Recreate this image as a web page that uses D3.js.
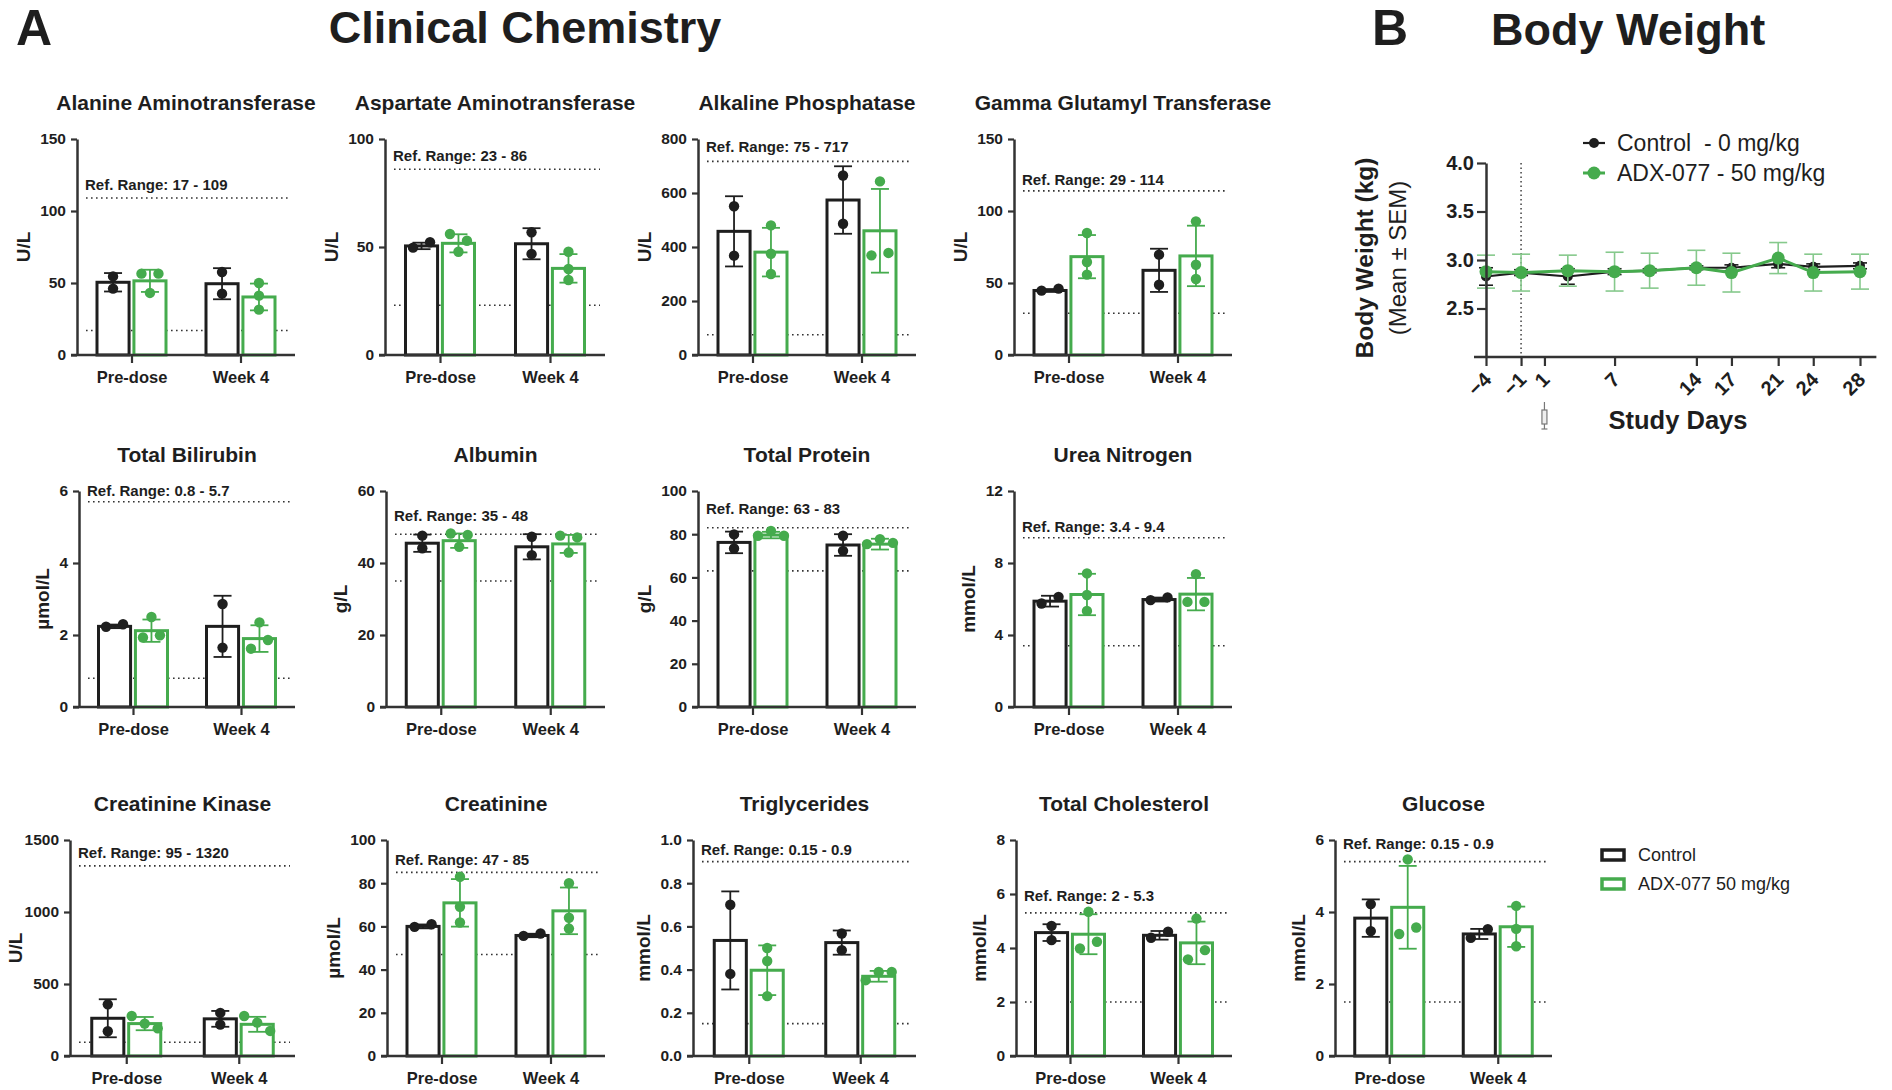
<!DOCTYPE html>
<html><head><meta charset="utf-8">
<script src="https://cdn.jsdelivr.net/npm/d3@7/dist/d3.min.js"></script>
<style>
body{margin:0;background:#fff}
svg{display:block}
text{font-family:"Liberation Sans",Arial,Helvetica,sans-serif;fill:#1e1e1e}
</style>
</head><body>
<svg id="chart" width="1892" height="1090"></svg>
<script>
// ---------------- DATA ----------------
const categories = ["Pre-dose", "Week 4"];
const groups = ["Control", "ADX-077 50 mg/kg"];
const panelTitles = ["Alanine Aminotransferase","Aspartate Aminotransferase","Alkaline Phosphatase","Gamma Glutamyl Transferase",
  "Total Bilirubin","Albumin","Total Protein","Urea Nitrogen",
  "Creatinine Kinase","Creatinine","Triglycerides","Total Cholesterol","Glucose"];
const units = ["U/L","U/L","U/L","U/L","µmol/L","g/L","g/L","mmol/L","U/L","µmol/L","mmol/L","mmol/L","mmol/L"];
const yMax = [150,100,800,150,6,60,100,12,1500,100,1.0,8,6];
const yTicks = [[0,50,100,150],[0,50,100],[0,200,400,600,800],[0,50,100,150],
  [0,2,4,6],[0,20,40,60],[0,20,40,60,80,100],[0,4,8,12],
  [0,500,1000,1500],[0,20,40,60,80,100],[0,0.2,0.4,0.6,0.8,1.0],[0,2,4,6,8],[0,2,4,6]];
const yTickFmt = ["d","d","d","d","d","d","d","d","d","d",".1f","d","d"];
const refLow  = [17,23,75,29,0.8,35,63,3.4,95,47,0.15,2,1.5];
const refHigh = [109,86,717,114,5.7,48,83,9.4,1320,85,0.9,5.3,5.4];
const refLabels = ["Ref. Range: 17 - 109","Ref. Range: 23 - 86","Ref. Range: 75 - 717","Ref. Range: 29 - 114",
  "Ref. Range: 0.8 - 5.7","Ref. Range: 35 - 48","Ref. Range: 63 - 83","Ref. Range: 3.4 - 9.4",
  "Ref. Range: 95 - 1320","Ref. Range: 47 - 85","Ref. Range: 0.15 - 0.9","Ref. Range: 2 - 5.3","Ref. Range: 0.15 - 0.9"];

// Control (n=2): [Pre-dose, Week 4]
const ctrlMean = [[50.5,49.5],[50.5,51.5],[458,574],[44.8,58.8],[2.24,2.24],[45.5,44.5],[76.2,75.0],[5.88,5.97],[262,258],[60.0,55.8],[0.535,0.525],[4.57,4.47],[3.83,3.39]];
const ctrlSD   = [[6.4,10.8],[1.5,7.2],[130,125],[1.0,15.0],[0.05,0.85],[2.4,3.5],[5.0,5.0],[0.3,0.11],[132,55],[0.9,0.8],[0.227,0.056],[0.31,0.16],[0.52,0.14]];
const ctrlPts  = [[[54.6,46.1],[57.6,42.6]],[[49.7,52.2],[56.8,46.8]],[[551,368],[665,486]],[[44.7,46.1],[69.7,48.8]],
  [[2.23,2.30],[2.86,1.65]],[[47.6,44.1],[47.3,42.2]],[[79.9,73.4],[79.3,72.3]],[[5.75,6.12],[5.94,6.09]],
  [[359,172],[299,218]],[[59.8,61.0],[55.6,56.7]],[[0.70,0.38],[0.567,0.49]],[[4.82,4.29],[4.38,4.60]],[[4.22,3.47],[3.28,3.52]]];
// ADX-077 50 mg/kg (n=3)
const trtMean = [[51.5,40.3],[51.7,40.1],[381,460],[68.3,68.8],[2.12,1.90],[46.2,45.3],[79.6,75.4],[6.25,6.27],[225,220],[70.9,67.2],[0.397,0.369],[4.51,4.19],[4.13,3.59]];
const trtSD   = [[7.7,9.3],[4.2,6.6],[90,155],[15.0,21.0],[0.31,0.37],[2.0,2.5],[1.5,2.5],[1.15,0.9],[46,52],[11.0,10.8],[0.115,0.025],[0.74,0.79],[1.15,0.56]];
const trtPts  = [[[56.5,56.5,43.1],[50.0,41.2,31.5]],[[56.0,52.9,47.8],[47.8,39.8,34.7]],[[480,375,300],[643,369,378]],[[84.7,64.6,55.8],[92.8,62.7,52.8]],
  [[2.50,1.93,1.99],[2.35,1.62,1.86]],[[48.2,47.8,44.5],[47.6,47.1,42.9]],[[79.3,81.5,79.3],[75.4,77.7,76.0]],[[7.42,6.22,5.34],[7.38,5.84,5.84]],
  [[278,225,192],[278,232,174]],[[83.0,69.1,61.8],[80.0,64.0,59.0]],[[0.50,0.44,0.277],[0.351,0.389,0.389]],[[5.34,3.98,4.23],[5.09,3.58,3.92]],[[5.46,3.39,3.57],[4.17,3.53,3.05]]];

// Body weight (Mean ± SEM)
const bwDays = [-4,-1,3,7,10,14,17,21,24,28];
const bwTickDays = [-4,-1,1,7,14,17,21,24,28];
const bwYTicks = [2.5,3.0,3.5,4.0];
const bwSeries = ["Control  - 0 mg/kg","ADX-077 - 50 mg/kg"];
const bwCtrlMean = [2.83,2.87,2.83,2.88,2.89,2.92,2.92,2.96,2.93,2.94];
const bwCtrlSEM  = [0.09,0.03,0.08,0.03,0.02,0.02,0.03,0.04,0.03,0.03];
const bwTrtMean  = [2.88,2.87,2.89,2.88,2.89,2.92,2.87,3.02,2.87,2.88];
const bwTrtSEM   = [0.17,0.19,0.16,0.20,0.18,0.18,0.20,0.16,0.19,0.18];

// ---------------- LAYOUT ----------------
const BLACK = "#1e1e1e", GREEN = "#45ab4d", GREEN_LIGHT = "#86c98c";
const rowTop = [139, 491, 840], rowZero = [355, 707, 1056];
const colRight = [295, 605, 916, 1232, 1552];
const plotLeft = [77,385,698,1014, 79,386,698,1014, 70,387,693,1016,1335];
const panelCell = [[0,0],[0,1],[0,2],[0,3],[1,0],[1,1],[1,2],[1,3],[2,0],[2,1],[2,2],[2,3],[2,4]];
const refLabelGap = [8,8,9,6,6,13,14,6,8,7,7,12,13];
const FONT = "'Liberation Sans',Arial,sans-serif";

const svg = d3.select("#chart");

// headings
svg.append("text").attr("x",16).attr("y",45).attr("font-size",50).attr("font-weight","bold").text("A");
svg.append("text").attr("x",525).attr("y",43).attr("text-anchor","middle").attr("font-size",45).attr("font-weight","bold").text("Clinical Chemistry");
svg.append("text").attr("x",1372).attr("y",45).attr("font-size",50).attr("font-weight","bold").text("B");
svg.append("text").attr("x",1491).attr("y",45).attr("font-size",45).attr("font-weight","bold").text("Body Weight");

function swarm(vals, yS) {
  const order = vals.map((v,i)=>({v,i,py:yS(v)})).sort((a,b)=>a.py-b.py);
  const grpsArr = [];
  order.forEach(o=>{
    const last = grpsArr[grpsArr.length-1];
    if (last && o.py - last[last.length-1].py < 10) last.push(o); else grpsArr.push([o]);
  });
  const off = new Array(vals.length).fill(0);
  grpsArr.forEach(gr=>{
    gr.sort((a,b)=>a.i-b.i);
    const k = gr.length;
    const offs = k===1?[0]:k===2?[-8.5,8.5]:[-13,0,13];
    gr.forEach((o,j)=>off[o.i]=offs[j]);
  });
  return off;
}

panelTitles.forEach((title, p) => {
  const [r, c] = panelCell[p];
  const L = plotLeft[p], R = colRight[c], T = rowTop[r], B = rowZero[r];
  const y = d3.scaleLinear().domain([0, yMax[p]]).range([B, T]);
  const x = d3.scalePoint().domain(categories).range([L, R]).padding(0.5);
  const xs = d3.scaleBand().domain(groups).range([-36, 36]).paddingInner(0.05);
  const g = svg.append("g");

  g.append("text").attr("x",(L+R)/2).attr("y",T-29).attr("text-anchor","middle")
    .attr("font-size",21).attr("font-weight","bold").text(title);

  // reference lines
  [refLow[p], refHigh[p]].forEach(v => {
    g.append("line").attr("x1",L+9).attr("x2",R-5).attr("y1",y(v)).attr("y2",y(v))
      .attr("stroke","#333").attr("stroke-width",1.6).attr("stroke-dasharray","1.6,3.4");
  });
  g.append("text").attr("x",L+8).attr("y",y(refHigh[p])-refLabelGap[p])
    .attr("font-size",15).attr("font-weight","bold").text(refLabels[p]);

  const series = [
    {name:groups[0], mean:ctrlMean[p], sd:ctrlSD[p], pts:ctrlPts[p], color:BLACK},
    {name:groups[1], mean:trtMean[p], sd:trtSD[p], pts:trtPts[p], color:GREEN}
  ];
  series.forEach(s => {
    categories.forEach((cat, ci) => {
      const bx = x(cat) + xs(s.name);
      g.append("rect").attr("x",bx+1.5).attr("width",xs.bandwidth()-3)
        .attr("y",y(s.mean[ci])).attr("height",B-y(s.mean[ci]))
        .attr("fill","#fff").attr("stroke",s.color).attr("stroke-width",3);
    });
  });
  series.forEach(s => {
    categories.forEach((cat, ci) => {
      const cx = x(cat) + xs(s.name) + xs.bandwidth()/2;
      const lo = Math.max(0, s.mean[ci]-s.sd[ci]), hi = s.mean[ci]+s.sd[ci];
      const eg = g.append("g").attr("stroke",s.color).attr("stroke-width",1.8);
      eg.append("line").attr("x1",cx).attr("x2",cx).attr("y1",y(lo)).attr("y2",y(hi));
      [lo,hi].forEach(v=>eg.append("line").attr("x1",cx-9).attr("x2",cx+9).attr("y1",y(v)).attr("y2",y(v)));
      const offs = swarm(s.pts[ci], y);
      g.selectAll(null).data(s.pts[ci]).enter().append("circle")
        .attr("cx",(d,i)=>cx+offs[i]).attr("cy",d=>y(d)).attr("r",5.2).attr("fill",s.color);
    });
  });

  // y axis
  const ay = g.append("g").attr("transform",`translate(${L},0)`)
    .call(d3.axisLeft(y).tickValues(yTicks[p]).tickFormat(d3.format(yTickFmt[p])).tickSize(6).tickSizeOuter(0).tickPadding(5));
  ay.select(".domain").attr("stroke","#333").attr("stroke-width",2.5);
  ay.selectAll(".tick line").attr("stroke","#333").attr("stroke-width",2.2);
  ay.selectAll(".tick text").attr("font-size",15.5).attr("font-weight","bold").attr("fill","#1e1e1e").style("font-family",FONT);
  let maxW = 0;
  ay.selectAll(".tick text").each(function(){ maxW = Math.max(maxW, this.getComputedTextLength()); });
  const ux = Math.max(15, L - maxW - 28);
  g.append("text").attr("transform",`translate(${ux},${(T+B)/2}) rotate(-90)`)
    .attr("text-anchor","middle").attr("dy","0.35em").attr("font-size",19).attr("font-weight","bold").text(units[p]);

  // x axis
  const ax = g.append("g").attr("transform",`translate(0,${B})`)
    .call(d3.axisBottom(x).tickSize(8).tickSizeOuter(0).tickPadding(8));
  ax.select(".domain").remove();
  ax.append("line").attr("x1",L-6).attr("x2",R).attr("y1",0).attr("y2",0).attr("stroke","#333").attr("stroke-width",2.5);
  ax.selectAll(".tick line").attr("stroke","#333").attr("stroke-width",2.2);
  ax.selectAll(".tick text").attr("font-size",16.5).attr("font-weight","bold").attr("fill","#1e1e1e").style("font-family",FONT);
});

// bar legend
groups.forEach((gname, i) => {
  const ly = 855 + i*29;
  svg.append("rect").attr("x",1602).attr("y",ly-5).attr("width",22).attr("height",10)
    .attr("fill","#fff").attr("stroke",i===0?BLACK:GREEN).attr("stroke-width",3.5);
  svg.append("text").attr("x",1638).attr("y",ly).attr("dy","0.35em").attr("font-size",18).text(gname);
});

// ---------------- BODY WEIGHT ----------------
const bx = d3.scaleLinear().domain([-4, 28]).range([1486, 1860]);
const by = d3.scaleLinear().domain([2.0, 4.0]).range([357, 163]);
const bg = svg.append("g");

bg.append("line").attr("x1",bx(-1)).attr("x2",bx(-1)).attr("y1",by(4.0)).attr("y2",by(2.0))
  .attr("stroke","#333").attr("stroke-width",1.4).attr("stroke-dasharray","1.5,3");

const bwSets = [
  {mean:bwCtrlMean, sem:bwCtrlSEM, color:BLACK, ecolor:BLACK, lw:2.2, r:5, cap:7},
  {mean:bwTrtMean, sem:bwTrtSEM, color:GREEN, ecolor:GREEN_LIGHT, lw:3, r:6.5, cap:9}
];
bwSets.forEach(s => {
  const data = bwDays.map((d,i)=>({d, m:s.mean[i], e:s.sem[i]}));
  const eg = bg.append("g").attr("stroke",s.ecolor).attr("stroke-width",1.6);
  data.forEach(o=>{
    eg.append("line").attr("x1",bx(o.d)).attr("x2",bx(o.d)).attr("y1",by(o.m-o.e)).attr("y2",by(o.m+o.e));
    [o.m-o.e,o.m+o.e].forEach(v=>eg.append("line").attr("x1",bx(o.d)-s.cap).attr("x2",bx(o.d)+s.cap).attr("y1",by(v)).attr("y2",by(v)));
  });
  bg.append("path").datum(data).attr("fill","none").attr("stroke",s.color).attr("stroke-width",s.lw)
    .attr("d", d3.line().x(o=>bx(o.d)).y(o=>by(o.m)));
  bg.selectAll(null).data(data).enter().append("circle").attr("cx",o=>bx(o.d)).attr("cy",o=>by(o.m)).attr("r",s.r).attr("fill",s.color);
});

const bay = bg.append("g").attr("transform",`translate(${bx(-4)},0)`)
  .call(d3.axisLeft(by).tickValues(bwYTicks).tickFormat(d3.format(".1f")).tickSize(9).tickSizeOuter(0).tickPadding(3));
bay.select(".domain").attr("stroke","#333").attr("stroke-width",2.5);
bay.selectAll(".tick line").attr("stroke","#333").attr("stroke-width",2.2);
bay.selectAll(".tick text").attr("font-size",20).attr("font-weight","bold").attr("fill","#1e1e1e").style("font-family",FONT);

const bax = bg.append("g").attr("transform",`translate(0,${by(2.0)})`)
  .call(d3.axisBottom(bx).tickValues(bwTickDays).tickFormat(d3.format("d")).tickSize(9).tickSizeOuter(0));
bax.select(".domain").remove();
bax.append("line").attr("x1",bx(-4)-12).attr("x2",bx(29.4)).attr("y1",0).attr("y2",0).attr("stroke","#333").attr("stroke-width",2.5);
bax.selectAll(".tick line").attr("stroke","#333").attr("stroke-width",2.2);
bax.selectAll(".tick text").attr("font-size",20).attr("font-weight","bold").attr("fill","#1e1e1e").style("font-family",FONT)
  .attr("text-anchor","end").attr("y",0).attr("dy",0)
  .attr("transform","translate(6,24) rotate(-45)");

bg.append("text").attr("x",1678).attr("y",429).attr("text-anchor","middle").attr("font-size",25.5).attr("font-weight","bold").text("Study Days");
bg.append("text").attr("transform",`translate(1364,${(by(2.0)+by(4.0))/2-2}) rotate(-90)`).attr("text-anchor","middle").attr("dy","0.35em")
  .attr("font-size",24.5).attr("font-weight","bold").text("Body Weight (kg)");
bg.append("text").attr("transform",`translate(1398,${(by(2.0)+by(4.0))/2-2}) rotate(-90)`).attr("text-anchor","middle").attr("dy","0.35em")
  .attr("font-size",24).text("(Mean ± SEM)");

// syringe (dosing marker) at day 1
const sx = bx(1);
const sy = bg.append("g").attr("stroke","#777").attr("fill","none").attr("stroke-width",1.2);
sy.append("line").attr("x1",sx).attr("x2",sx).attr("y1",402).attr("y2",410);
sy.append("rect").attr("x",sx-2.5).attr("y",410).attr("width",5).attr("height",14).attr("fill","#eee");
sy.append("line").attr("x1",sx).attr("x2",sx).attr("y1",424).attr("y2",429);
sy.append("line").attr("x1",sx-3).attr("x2",sx+3).attr("y1",429).attr("y2",429);

// body weight legend
bwSeries.forEach((name, i) => {
  const ly = 143 + i*30;
  const col = i===0 ? BLACK : GREEN;
  svg.append("line").attr("x1",1583).attr("x2",1605).attr("y1",ly).attr("y2",ly).attr("stroke",col).attr("stroke-width",i===0?2.2:3);
  svg.append("circle").attr("cx",1594).attr("cy",ly).attr("r",i===0?5:6.5).attr("fill",col);
  svg.append("text").attr("x",1617).attr("y",ly).attr("dy","0.35em").attr("font-size",23).text(name).style("white-space","pre");
});
</script>
</body></html>
